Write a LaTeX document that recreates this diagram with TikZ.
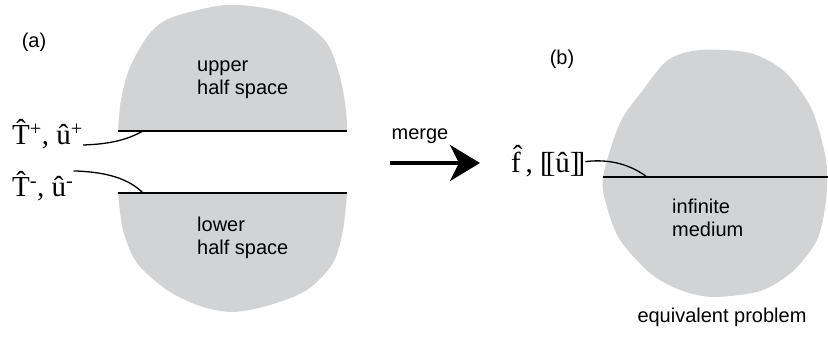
\documentclass[tikz,border=0pt]{standalone}
\usepackage{fontspec}
\setmainfont{Liberation Sans}
\newfontfamily\symfont{Liberation Serif}
\usetikzlibrary{arrows.meta, positioning}
\definecolor{blobgray}{RGB}{209,211,212}
\tikzstyle{blob} = [fill=blobgray, draw=none]
\tikzstyle{cutline} = [line width=1.5pt, black]
\tikzstyle{lead} = [line width=1.3pt, black]
\tikzstyle{caption} = [inner sep=0pt, font=\fontsize{20}{23}\selectfont]
\tikzstyle{regionlabel} = [inner sep=0pt, align=left, font=\fontsize{20}{23}\selectfont]
\tikzstyle{fieldlabel} = [inner sep=0pt, font=\symfont\fontsize{29}{30}\selectfont]
\tikzstyle{arrow} = [line width=4pt, -{Stealth[length=30pt, width=36pt, inset=9pt]}, black]

\begin{document}
\begin{tikzpicture}[x=1pt, y=-1pt]
    \useasboundingbox (0,0) rectangle (828,339);

    % (a): the two half spaces
    \fill[blob] plot[smooth] coordinates {(118,131) (121,100) (130,67) (150,33) (173,17) (225,5)
        (270,9) (300,20) (327,43) (340,77) (346,110) (347,131)} -- cycle;
    \fill[blob] plot[smooth] coordinates {(118,193) (123,230) (137,263) (167,290) (200,306) (233,312)
        (270,305) (307,290) (333,263) (343,230) (347,193)} -- cycle;
    \coordinate (upleft) at (118,131);
    \coordinate (upright) at (347,131);
    \coordinate (lowleft) at (118,193);
    \coordinate (lowright) at (347,193);
    \coordinate (upcut) at (143,131);
    \coordinate (lowcut) at (143,193);
    \draw[cutline] (upleft) -- (upright);
    \draw[cutline] (lowleft) -- (lowright);

    \node[caption] (labela) at (34,42) {(a)};
    \node[regionlabel, anchor=base west] (upper) at (197,95) {upper\\half space};
    \node[regionlabel, anchor=base west] (lower) at (197,255) {lower\\half space};
    \node[fieldlabel, anchor=base west] (tplus) at (12,145) {\^{T}\textsuperscript{+}, \^{u}\textsuperscript{+}};
    \node[fieldlabel, anchor=base west] (tminus) at (12,197) {\^{T}\textsuperscript{-}, \^{u}\textsuperscript{-}};
    \draw[lead] (tplus.base east) .. controls (115,144) and (130,138) .. (upcut);
    \draw[lead] (tminus.north east) .. controls (110,172) and (130,180) .. (lowcut);

    % merge arrow
    \coordinate (mstart) at (390,163);
    \coordinate (mend) at (480,163);
    \node[caption, anchor=base] (merge) at (420,140) {merge};
    \draw[arrow] (mstart) -- (mend);

    % (b): the infinite medium
    \fill[blob] plot[smooth cycle] coordinates {(603,177) (607,207) (620,240) (650,273) (680,290)
        (713,297) (760,291) (792,272) (817,240) (826,200) (826,160) (812,110) (785,72) (750,53)
        (700,50) (668,60) (643,90) (620,123)};
    \coordinate (medleft) at (603,177);
    \coordinate (medright) at (828,177);
    \coordinate (medcut) at (647,177);
    \draw[cutline] (medleft) -- (medright);

    \node[caption] (labelb) at (562,59) {(b)};
    \node[regionlabel, anchor=base west] (medium) at (672,237) {infinite\\medium};
    \node[fieldlabel, anchor=base west] (fu) at (511,173) {\^{f}\,, [\kern-0.14em[\^{u}]\kern-0.14em]};
    \draw[lead] (fu.east) .. controls (615,158) and (635,168) .. (medcut);
    \node[caption, anchor=base] (equiv) at (722,323) {equivalent problem};
\end{tikzpicture}
\end{document}
